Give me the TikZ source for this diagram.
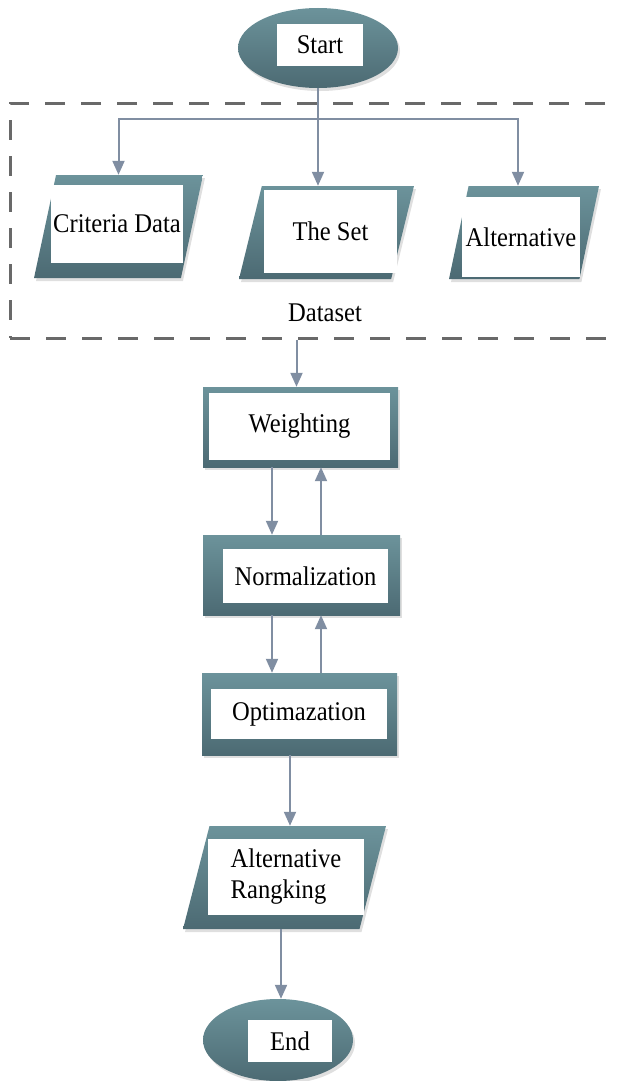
\documentclass[tikz,border=0pt]{standalone}
\usepackage{fontspec}
\setmainfont{Liberation Serif}[FakeStretch=0.91]
\usetikzlibrary{shapes.geometric,arrows.meta,shadows}
\definecolor{tealtop}{RGB}{108,147,155}
\definecolor{tealbot}{RGB}{76,106,115}
\definecolor{flowline}{RGB}{128,142,162}
\definecolor{dashgray}{RGB}{105,105,105}
\begin{document}
\begin{tikzpicture}[x=1pt,y=-1pt,
  every node/.style = {font=\fontsize{27}{31}\selectfont, inner sep=0pt},
  shell/.style    = {draw=none, top color=tealtop, bottom color=tealbot,
    drop shadow={opacity=0.25, shadow xshift=2pt, shadow yshift=-3pt}},
  terminal/.style = {shell, ellipse},
  process/.style  = {shell, rectangle},
  io/.style       = {shell, trapezium, inner sep=5pt, trapezium left angle=80,
    trapezium right angle=100, trapezium stretches=true},
  whitebox/.style = {fill=white, align=center},
  frame/.style    = {draw=dashgray, line width=3pt, dash pattern=on 20pt off 16pt},
  flow/.style     = {draw=flowline, line width=2pt,
    -{Triangle[length=14pt,width=12pt]}}]
\useasboundingbox (0,0) rectangle (619,1081);
% start
\node[terminal, minimum width=160, minimum height=80] (startO) at (318,48) {};
\node[whitebox, minimum width=86, minimum height=42] (start) at (320,45) {Start};
% dataset group
\node[frame, minimum width=630, minimum height=235] (dataset) at (325,220.5) {};
\node (datasetlbl) at (325,313) {Dataset};
\node[io, minimum width=169, minimum height=103] (critO) at (118.5,226.5) {};
\node[whitebox, minimum width=132, minimum height=78] (crit) at (117,224) {Criteria Data};
\node[io, minimum width=175, minimum height=93] (setO) at (326.5,232.5) {};
\node[whitebox, minimum width=133, minimum height=83] (set) at (330.5,231.5) {The Set};
\node[io, minimum width=150, minimum height=93] (altO) at (524,232.5) {};
\node[whitebox, minimum width=118, minimum height=80] (alt) at (521,237) {Alternative};
% process steps
\node[process, minimum width=195, minimum height=80] (weightO) at (300.5,427) {};
\node[whitebox, minimum width=181, minimum height=67] (weight) at (299.5,426.5) {Weighting};
\node[process, minimum width=197, minimum height=80] (normO) at (301.5,575) {};
\node[whitebox, minimum width=165, minimum height=54] (norm) at (305.5,576) {Normalization};
\node[process, minimum width=195, minimum height=82] (optO) at (299.5,714) {};
\node[whitebox, minimum width=176, minimum height=50] (opt) at (299,714) {Optimazation};
% output and end
\node[io, minimum width=203, minimum height=103] (rankO) at (284.5,877.5) {};
\node[whitebox, minimum width=156, minimum height=76, align=left] (rank) at (286,877) {Alternative\\Rangking};
\node[terminal, minimum width=150, minimum height=82] (endO) at (278,1040) {};
\node[whitebox, minimum width=84, minimum height=42] (end) at (290,1041) {End};
% connectors
\coordinate (fork) at (startO.south |- 0,119);
\draw[flow] (startO.south) -- (startO.south |- setO.north);
\draw[flow] (fork) -| (critO.north);
\draw[flow] (fork) -| ([xshift=-6pt]altO.north);
\draw[flow] ([xshift=-4pt]weightO.north |- dataset.south) -- ([xshift=-4pt]weightO.north);
\draw[flow] ([xshift=-28.5pt]weightO.south) -- ([xshift=-28.5pt]weightO.south |- normO.north);
\draw[flow] ([xshift=20.5pt]weightO.south |- normO.north) -- ([xshift=20.5pt]weightO.south);
\draw[flow] ([xshift=-29.5pt]normO.south) -- ([xshift=-29.5pt]normO.south |- optO.north);
\draw[flow] ([xshift=19.5pt]normO.south |- optO.north) -- ([xshift=19.5pt]normO.south);
\draw[flow] ([xshift=-9.5pt]optO.south) -- ([xshift=-9.5pt]optO.south |- rankO.north);
\draw[flow] ([xshift=-3.5pt]rankO.south) -- ([xshift=-3.5pt]rankO.south |- endO.north);
\end{tikzpicture}
\end{document}
